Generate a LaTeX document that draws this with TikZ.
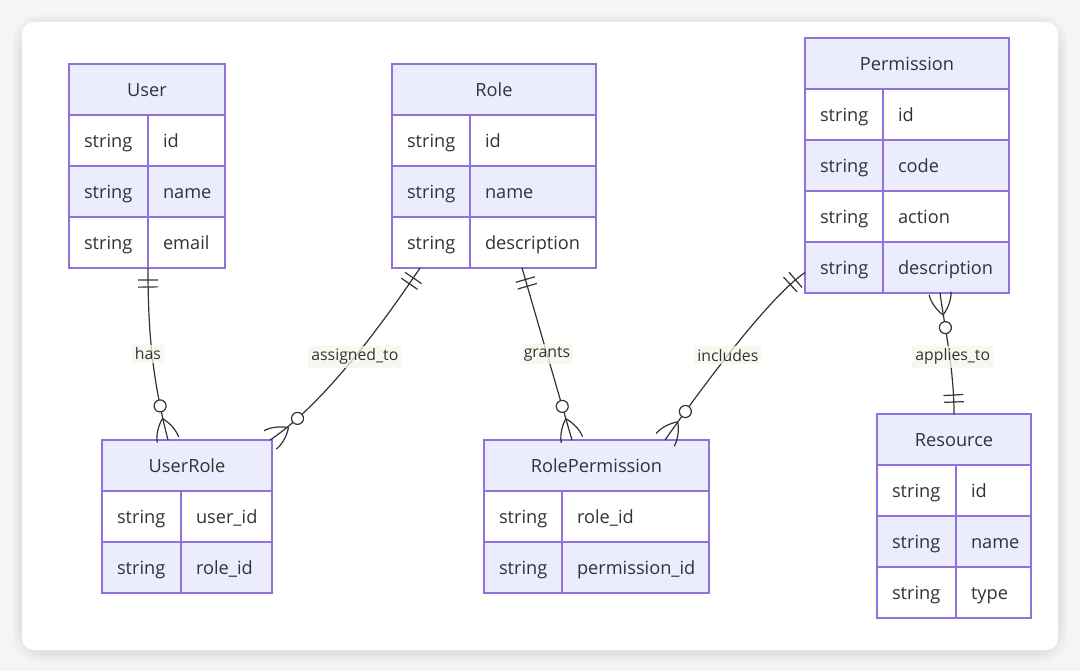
\documentclass[tikz,border=0pt]{standalone}
\usepackage{fontspec}
\setmainfont{Open Sans}
\usetikzlibrary{decorations.markings}
\definecolor{entfill}{HTML}{ECECFF}
\definecolor{entline}{HTML}{9370DB}
\definecolor{enttext}{HTML}{333333}
\definecolor{linegray}{HTML}{333333}
\definecolor{lblfill}{HTML}{F4F8EC}
\definecolor{pagegray}{HTML}{F5F5F5}
\begin{document}
\begin{tikzpicture}[x=0.5pt, y=-0.5pt,
    ent/.style = {draw=entline, line width=0.75pt, text=enttext, inner sep=0pt, outer sep=0pt,
      font={\fontsize{9.1pt}{11pt}\selectfont}, minimum height=25.5pt,
      text height=7.9pt, text depth=1pt},
    head/.style = {ent, fill=entfill, anchor=north west},
    cell/.style = {ent, anchor=north west, align=left, inner xsep=7.5pt},
    rowa/.style = {fill=white},
    rowb/.style = {fill=entfill},
    rel/.style = {draw=linegray, line width=0.6pt, postaction=decorate,
      decoration={markings,
        mark=at position 6pt with {\draw[linegray, line width=0.6pt] (0,-5pt) -- (0,5pt);},
        mark=at position 9.5pt with {\draw[linegray, line width=0.6pt] (0,-5pt) -- (0,5pt);},
        mark=at position -17.5pt with {\draw[linegray, line width=0.6pt, fill=white] (0,0) circle[radius=3pt];},
        mark=at position -0.1pt with {\draw[linegray, line width=0.6pt]
          (-11pt,0) .. controls (-7pt,4pt) and (-2pt,5.5pt) .. (0,5.5pt)
          (-11pt,0) .. controls (-7pt,-4pt) and (-2pt,-5.5pt) .. (0,-5.5pt);}}},
    lbl/.style = {fill=lblfill, fill opacity=0.75, text opacity=1, text=enttext, inner sep=1.5pt,
      font={\fontsize{7.9pt}{9pt}\selectfont}}
  ]
  % card
  \useasboundingbox (0,0) rectangle (1080,671);
  \fill[pagegray] (0,0) rectangle (1080,671);
  \foreach \i in {1,...,10}{
    \fill[black, opacity=0.007, rounded corners=14pt] (22-\i,24-\i) rectangle (1058+\i,653+\i);
  }
  \fill[white, rounded corners=6pt] (22,22) rectangle (1058,650);

  % entities
  \node[head, minimum width=78pt] (User) at (69,64) {User};
  \node[cell, rowa, text width=24.5pt] (User-1t) at (User.south west) {string};
  \node[cell, rowa, text width=23.5pt] (User-1n) at (User-1t.north east) {id};
  \node[cell, rowb, text width=24.5pt] (User-2t) at (User-1t.south west) {string};
  \node[cell, rowb, text width=23.5pt] (User-2n) at (User-2t.north east) {name};
  \node[cell, rowa, text width=24.5pt] (User-3t) at (User-2t.south west) {string};
  \node[cell, rowa, text width=23.5pt] (User-3n) at (User-3t.north east) {email};

  \node[head, minimum width=102pt] (Role) at (392,64) {Role};
  \node[cell, rowa, text width=24pt] (Role-1t) at (Role.south west) {string};
  \node[cell, rowa, text width=48pt] (Role-1n) at (Role-1t.north east) {id};
  \node[cell, rowb, text width=24pt] (Role-2t) at (Role-1t.south west) {string};
  \node[cell, rowb, text width=48pt] (Role-2n) at (Role-2t.north east) {name};
  \node[cell, rowa, text width=24pt] (Role-3t) at (Role-2t.south west) {string};
  \node[cell, rowa, text width=48pt] (Role-3n) at (Role-3t.north east) {description};

  \node[head, minimum width=102pt] (Permission) at (805,38) {Permission};
  \node[cell, rowa, text width=24pt] (Permission-1t) at (Permission.south west) {string};
  \node[cell, rowa, text width=48pt] (Permission-1n) at (Permission-1t.north east) {id};
  \node[cell, rowb, text width=24pt] (Permission-2t) at (Permission-1t.south west) {string};
  \node[cell, rowb, text width=48pt] (Permission-2n) at (Permission-2t.north east) {code};
  \node[cell, rowa, text width=24pt] (Permission-3t) at (Permission-2t.south west) {string};
  \node[cell, rowa, text width=48pt] (Permission-3n) at (Permission-3t.north east) {action};
  \node[cell, rowb, text width=24pt] (Permission-4t) at (Permission-3t.south west) {string};
  \node[cell, rowb, text width=48pt] (Permission-4n) at (Permission-4t.north east) {description};

  \node[head, minimum width=85pt] (UserRole) at (102,440) {UserRole};
  \node[cell, rowa, text width=24.5pt] (UserRole-1t) at (UserRole.south west) {string};
  \node[cell, rowa, text width=30.5pt] (UserRole-1n) at (UserRole-1t.north east) {user\_id};
  \node[cell, rowb, text width=24.5pt] (UserRole-2t) at (UserRole-1t.south west) {string};
  \node[cell, rowb, text width=30.5pt] (UserRole-2n) at (UserRole-2t.north east) {role\_id};

  \node[head, minimum width=112.5pt] (RolePermission) at (484,440) {RolePermission};
  \node[cell, rowa, text width=24pt] (RolePermission-1t) at (RolePermission.south west) {string};
  \node[cell, rowa, text width=58.5pt] (RolePermission-1n) at (RolePermission-1t.north east) {role\_id};
  \node[cell, rowb, text width=24pt] (RolePermission-2t) at (RolePermission-1t.south west) {string};
  \node[cell, rowb, text width=58.5pt] (RolePermission-2n) at (RolePermission-2t.north east) {permission\_id};

  \node[head, minimum width=77pt] (Resource) at (877,414) {Resource};
  \node[cell, rowa, text width=24.5pt] (Resource-1t) at (Resource.south west) {string};
  \node[cell, rowa, text width=22.5pt] (Resource-1n) at (Resource-1t.north east) {id};
  \node[cell, rowb, text width=24.5pt] (Resource-2t) at (Resource-1t.south west) {string};
  \node[cell, rowb, text width=22.5pt] (Resource-2n) at (Resource-2t.north east) {name};
  \node[cell, rowa, text width=24.5pt] (Resource-3t) at (Resource-2t.south west) {string};
  \node[cell, rowa, text width=22.5pt] (Resource-3n) at (Resource-3t.north east) {type};

  % relations
  \draw[rel] (User-3t.south east) .. controls +(0,62) and +(-16,-62) ..
    ([xshift=33pt]UserRole.north west) node[lbl, pos=0.5, xshift=-2pt] {has};
  \draw[rel] ([xshift=14pt]Role-3t.south west) .. controls +(-25,37) and +(60,-40) ..
    ([xshift=-1pt]UserRole.north east) node[lbl, pos=0.52] {assigned\_to};
  \draw[rel] ([xshift=65pt]Role-3t.south west) --
    ([xshift=44pt]RolePermission.north west) node[lbl, pos=0.5] {grants};
  \draw[rel] ([yshift=-2.5pt]Permission-4t.west) .. controls +(-40,27) and +(21,-30) ..
    ([xshift=90.5pt]RolePermission.north west) node[lbl, pos=0.5] {includes};
  \draw[rel] ([xshift=38.5pt]Resource.north west) .. controls +(0,-44) and +(5,36) ..
    ([xshift=28.5pt]Permission-4t.south east) node[lbl, pos=0.45, xshift=1.5pt] {applies\_to};
\end{tikzpicture}
\end{document}
